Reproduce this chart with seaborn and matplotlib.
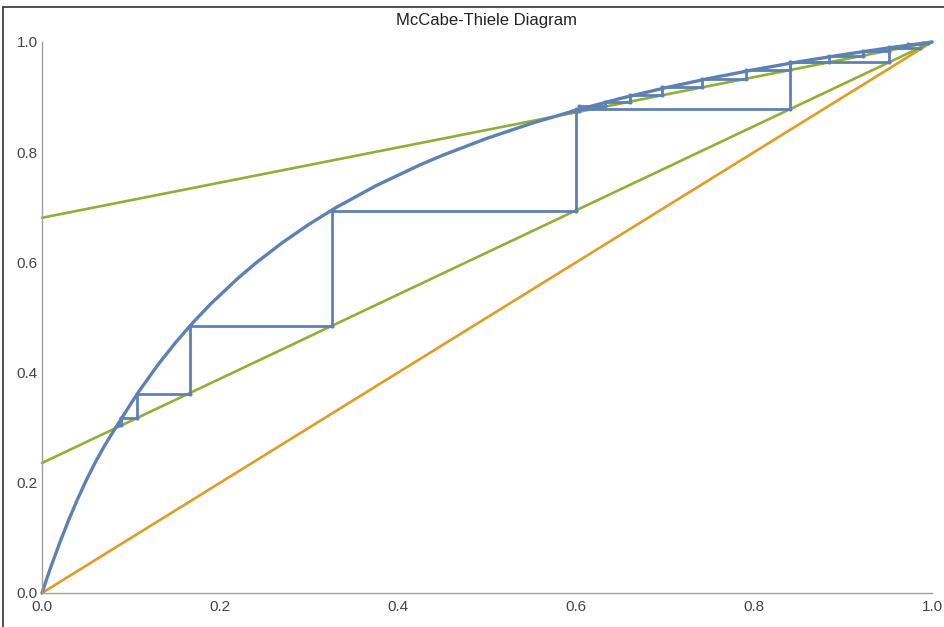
import matplotlib
matplotlib.use("Agg")
import matplotlib.pyplot as plt
from matplotlib.lines import Line2D
from matplotlib.ticker import MultipleLocator, FormatStrFormatter
import seaborn as sns

# ---- data ----
title = "McCabe-Thiele Diagram"

# equilibrium curve
eq_x = [0.0, 0.005, 0.01, 0.02, 0.03, 0.04, 0.05, 0.06, 0.07, 0.08, 0.09, 0.10,
        0.11, 0.13, 0.15, 0.17, 0.19, 0.22, 0.24, 0.27, 0.30, 0.33, 0.375, 0.425,
        0.45, 0.50, 0.55, 0.60, 0.65, 0.70, 0.75, 0.80, 0.85, 0.90, 0.95, 1.0]
eq_y = [0.0, 0.0242, 0.0475, 0.0915, 0.1325, 0.1705, 0.2055, 0.2375, 0.2665, 0.293,
        0.3185, 0.344, 0.3684, 0.4136, 0.4544, 0.4915, 0.5254, 0.5710, 0.5985, 0.6358,
        0.6692, 0.6992, 0.7390, 0.7772, 0.7943, 0.8252, 0.8523, 0.8762, 0.8976, 0.9168,
        0.9340, 0.9497, 0.9640, 0.9770, 0.9890, 1.0]

# operating lines (end points) and diagonal
upper_line_x = [0.0, 1.0]
upper_line_y = [0.681, 1.0]
lower_line_x = [0.0, 1.0]
lower_line_y = [0.236, 1.0]
diag_x = [0.0, 1.0]
diag_y = [0.0, 1.0]

# staircase on the upper operating line: vertical positions and horizontal levels
upper_steps_x = [0.990, 0.973, 0.952, 0.922, 0.884, 0.840, 0.791, 0.742, 0.697,
                 0.661, 0.633, 0.603]
upper_steps_y = [0.998, 0.996, 0.991, 0.984, 0.975, 0.963, 0.949, 0.933, 0.918,
                 0.903, 0.892, 0.883, 0.874]
upper_start_x = 0.995
upper_end_x = 0.596

# staircase on the lower operating line
lower_steps_x = [0.952, 0.840, 0.600, 0.326, 0.166, 0.107, 0.089]
lower_steps_y = [0.990, 0.963, 0.878, 0.694, 0.485, 0.362, 0.318, 0.304]
lower_start_x = 0.987
lower_end_x = 0.085


def stair_path(start_x, xs, ys, end_x):
    px = [start_x]
    py = [ys[0]]
    for i, x in enumerate(xs):
        px += [x, x]
        py += [ys[i], ys[i + 1]]
    px.append(end_x)
    py.append(ys[-1])
    return px, py


BLUE = "#5E81B5"
ORANGE = "#E19C24"
GREEN = "#8FB032"

sns.set_style("white")
plt.rcParams["font.family"] = ["Liberation Sans Narrow", "Liberation Sans", "DejaVu Sans"]

fig = plt.figure(figsize=(9.45, 6.27), dpi=100)
ax = fig.add_axes([42 / 945, 34 / 627, 890 / 945, 551 / 627])

sns.lineplot(x=diag_x, y=diag_y, ax=ax, color=ORANGE, linewidth=1.9, clip_on=False)
sns.lineplot(x=lower_line_x, y=lower_line_y, ax=ax, color=GREEN, linewidth=1.9, clip_on=False)
sns.lineplot(x=upper_line_x, y=upper_line_y, ax=ax, color=GREEN, linewidth=1.9, clip_on=False)

for sx, xs, ys, ex in [(upper_start_x, upper_steps_x, upper_steps_y, upper_end_x),
                       (lower_start_x, lower_steps_x, lower_steps_y, lower_end_x)]:
    px, py = stair_path(sx, xs, ys, ex)
    sns.lineplot(x=px, y=py, ax=ax, sort=False, estimator=None, color=BLUE,
                 linewidth=2.0, marker="o", markersize=3, markeredgewidth=0,
                 clip_on=False)

sns.lineplot(x=eq_x, y=eq_y, ax=ax, sort=False, estimator=None, color=BLUE,
             linewidth=2.4, clip_on=False)

ax.set_xlim(0, 1)
ax.set_ylim(0, 1)
ax.set_xlabel("")
ax.set_ylabel("")
ax.xaxis.set_major_locator(MultipleLocator(0.2))
ax.yaxis.set_major_locator(MultipleLocator(0.2))
ax.xaxis.set_minor_locator(MultipleLocator(0.05))
ax.yaxis.set_minor_locator(MultipleLocator(0.05))
ax.xaxis.set_major_formatter(FormatStrFormatter("%.1f"))
ax.yaxis.set_major_formatter(FormatStrFormatter("%.1f"))

for s in ["top", "right"]:
    ax.spines[s].set_visible(False)
for s in ["left", "bottom"]:
    ax.spines[s].set_color("#A0A0A0")
    ax.spines[s].set_linewidth(1.0)

ax.tick_params(which="major", direction="in", length=5, width=0.8, color="#A0A0A0",
               labelsize=11, labelcolor="#444444")
ax.tick_params(axis="x", which="major", pad=5)
ax.tick_params(axis="y", which="major", pad=3)
ax.tick_params(which="minor", direction="in", length=3, width=0.6, color="#A0A0A0")

ax.set_title(title, fontsize=12, color="#222222", pad=12,
             family=["Liberation Sans", "DejaVu Sans"])

# screenshot frame lines (top and left)
fig.add_artist(Line2D([3 / 945, 1.0], [1 - 7 / 627, 1 - 7 / 627], color="#333333",
                      linewidth=1.2, transform=fig.transFigure))
fig.add_artist(Line2D([3 / 945, 3 / 945], [0.0, 1 - 7 / 627], color="#333333",
                      linewidth=1.2, transform=fig.transFigure))

fig.savefig("out.png", dpi=100)
